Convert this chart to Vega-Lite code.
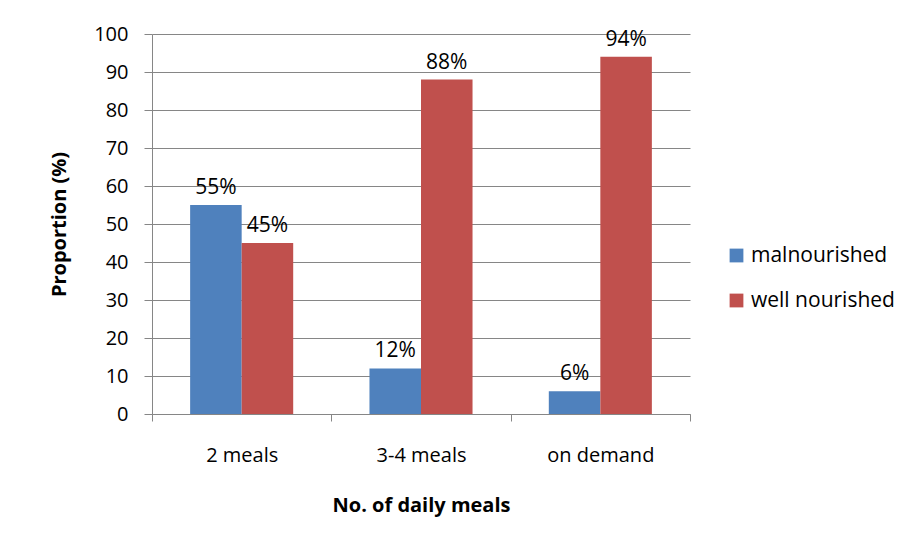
{
  "$schema": "https://vega.github.io/schema/vega-lite/v6.json",
  "width": 538,
  "height": 380,
  "autosize": {"type": "none"},
  "padding": {"left": 152, "top": 34, "right": 222, "bottom": 130},
  "background": "white",
  "config": {"view": {"stroke": null}, "font": "Open Sans"},
  "data": {
    "values": [
      {"meal": "2 meals", "status": "malnourished", "value": 55, "label": "55%"},
      {"meal": "2 meals", "status": "well nourished", "value": 45, "label": "45%"},
      {"meal": "3-4 meals", "status": "malnourished", "value": 12, "label": "12%"},
      {"meal": "3-4 meals", "status": "well nourished", "value": 88, "label": "88%"},
      {"meal": "on demand", "status": "malnourished", "value": 6, "label": "6%"},
      {"meal": "on demand", "status": "well nourished", "value": 94, "label": "94%"}
    ]
  },
  "encoding": {
    "x": {
      "field": "meal", "type": "nominal", "sort": null,
      "scale": {"paddingInner": 0, "paddingOuter": 0},
      "axis": {
        "title": "No. of  daily meals", "titleFontSize": 20, "titleFontWeight": "bold", "titlePadding": 30,
        "labelAngle": 0, "labelFontSize": 20, "labelPadding": 24, "labelColor": "#000",
        "domainColor": "#868686", "tickColor": "#868686", "tickSize": 7, "tickBand": "extent",
        "titleColor": "#000"
      }
    },
    "xOffset": {"field": "status", "type": "nominal", "scale": {"paddingOuter": 0.74, "paddingInner": 0}},
    "y": {
      "field": "value", "type": "quantitative",
      "scale": {"domain": [0, 100], "nice": false},
      "axis": {
        "title": "Proportion (%)", "titleFontSize": 20, "titleFontWeight": "bold", "titlePadding": 24, "titleColor": "#000",
        "values": [0, 10, 20, 30, 40, 50, 60, 70, 80, 90, 100],
        "labelFontSize": 20, "labelPadding": 16, "labelColor": "#000",
        "grid": true, "gridColor": "#868686", "domainColor": "#868686", "tickColor": "#868686", "tickSize": 8
      }
    }
  },
  "layer": [
    {
      "mark": {"type": "bar"},
      "encoding": {
        "color": {
          "field": "status", "type": "nominal",
          "scale": {"domain": ["malnourished", "well nourished"], "range": ["#4F81BD", "#C0504D"]},
          "legend": {
            "title": null, "orient": "none", "legendX": 574, "legendY": 211,
            "symbolType": "square", "symbolSize": 190, "symbolStrokeWidth": 0,
            "labelFontSize": 21, "labelColor": "#000", "rowPadding": 23, "labelOffset": 4
          }
        }
      }
    },
    {
      "mark": {"type": "text", "baseline": "bottom", "dy": -7, "fontSize": 21, "color": "#000"},
      "encoding": {"text": {"field": "label"}}
    }
  ]
}
